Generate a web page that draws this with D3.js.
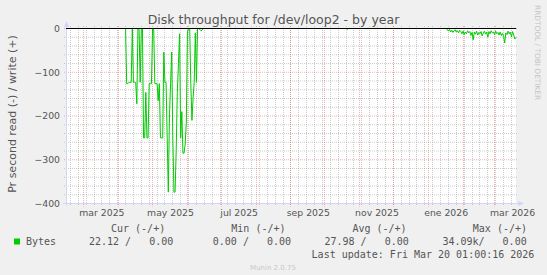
<!DOCTYPE html>
<html><head><meta charset="utf-8">
<script src="https://cdn.jsdelivr.net/npm/d3@7"></script>
<style>
body{margin:0;background:#F0F0F0;}
svg{display:block}
text{white-space:pre}
</style>
</head><body><svg id="c" width="547" height="275"></svg>
<script>
const chartTitle = "Disk throughput for /dev/loop2 - by year";
const yAxisLabel = "Pr second read (-) / write (+)";
const sideLabel = "RRDTOOL / TOBI OETIKER";
const footer = "Munin 2.0.75";
const rangeStart = "2025-02-13T01:00:00Z";
const rangeEnd = "2026-03-20T01:00:00Z";
const yTicks = [0, -100, -200, -300, -400];
const monthTickDates = ["2025-03-01","2025-05-01","2025-07-01","2025-09-01","2025-11-01","2026-01-01","2026-03-01"];
const monthTickLabels = ["mar 2025","may 2025","jul 2025","sep 2025","nov 2025","ene 2026","mar 2026"];

// daily read values (negative = read), Bytes per second
const springStart = "2025-04-07";
const springRead = [0,-126,-126,-123,-123,-123,0,-123,-123,-123,-172,0,0,-123,0,0,-250,-250,-146,-250,-250,-126,-126,-126,
  0,0,-126,-126,-126,-165,-126,-250,-250,-250,-54,-123,-123,-250,-374,-200,-126,-54,-250,-374,-374,-279,-146,-80,-12,-250,-190,-285,-285,-264,-214,
  -8,0,0,-126,-210,-160,-123,-10,-123,0,0,-2,-5,-4,0];
const autumnStart = "2025-10-20";
const autumnRead = [0,-2,0];
const winterStart = "2026-01-16";
const winterRead = [0,0,-3,-6,-2,-8,-4,-9,-5,-3,-8,-5,-10,-4,-7,-12,
  -6,-14,-8,-12,-5,-10,-7,-16,-9,-26,-8,-13,-6,-15,-9,-12,-7,-17,-10,-6,-13,-8,-20,-7,-12,-5,-10,-8,
  -14,-6,-12,-9,-15,-8,-16,-11,-18,-33,-10,-14,-6,-12,-8,-19,-7,-15,-24,-20];

const seriesName = "Bytes";
const seriesColor = "#00CC00";
const legendHeaders = ["Cur (-/+)","Min (-/+)","Avg (-/+)","Max (-/+)"];
const legendValues = ["22.12 /   0.00","0.00 /   0.00","27.98 /   0.00","34.09k/   0.00"];
const lastUpdate = "Last update: Fri Mar 20 01:00:16 2026";

const DAY = 864e5;
function seg(start, vals){
  const t0 = Date.parse(start + "T00:00:00Z");
  return vals.map((v,i)=>({t:new Date(t0 + i*DAY), v}));
}
const series = [{t:new Date(rangeStart), v:0}]
  .concat(seg(springStart, springRead), seg(autumnStart, autumnRead), seg(winterStart, winterRead));

const svg = d3.select("#c");
const X0 = 66, X1 = 516, YT = 28.5, YB = 203.5;
const x = d3.scaleUtc().domain([new Date(rangeStart), new Date(rangeEnd)]).range([X0, X1]);
const y = d3.scaleLinear().domain([-400, 0]).range([YB, YT]);

const sansFont = "'DejaVu Sans', sans-serif";
const monoFont = "'DejaVu Sans Mono', monospace";
const fontCol = "#555";

// canvas
svg.append("rect").attr("x", X0).attr("y", 28).attr("width", X1 - X0).attr("height", YB - 28).attr("fill", "#fff");

const snap = v => Math.round(v) + 0.5;
const minorCol = "rgba(143,143,143,0.45)";
const majorCol = "rgba(224,80,80,0.45)";
const gridG = svg.append("g").attr("stroke-width", 1).attr("stroke-dasharray", "1,1").attr("fill", "none");
// minor vertical (weeks)
d3.utcMonday.range(new Date(rangeStart), new Date(rangeEnd)).forEach(d => {
  const px = snap(x(d) - 0.5);
  gridG.append("line").attr("x1", px).attr("x2", px).attr("y1", 26).attr("y2", 205.5).attr("stroke", minorCol);
});
// minor horizontal
d3.range(-400, 1, 20).filter(v => v % 100 !== 0).forEach(v => {
  gridG.append("line").attr("x1", X0 - 2).attr("x2", X1 + 2).attr("y1", y(v)).attr("y2", y(v)).attr("stroke", minorCol);
});
// major vertical (months)
d3.utcMonth.range(new Date(rangeStart), new Date(rangeEnd)).forEach(d => {
  const px = snap(x(d) - 0.5);
  gridG.append("line").attr("x1", px).attr("x2", px).attr("y1", 26).attr("y2", 206.5).attr("stroke", majorCol);
});
// major horizontal
yTicks.forEach(v => {
  gridG.append("line").attr("x1", X0 - 2).attr("x2", X1 + 2).attr("y1", y(v)).attr("y2", y(v)).attr("stroke", majorCol);
});

// axes lines + arrows
const axCol = "#CFD6F8";
svg.append("line").attr("x1", X0 + 0.5).attr("x2", X0 + 0.5).attr("y1", YB + 2).attr("y2", 24).attr("stroke", axCol);
svg.append("line").attr("x1", X0 - 3).attr("x2", X1 + 3).attr("y1", YB).attr("y2", YB).attr("stroke", axCol);
svg.append("path").attr("d", `M${X0 - 2},27 L${X0 + 3},27 L${X0 + 0.5},21 Z`).attr("fill", axCol);
svg.append("path").attr("d", `M${X1 + 2},${YB - 2.5} L${X1 + 2},${YB + 2.5} L${X1 + 8},${YB} Z`).attr("fill", axCol);

// data line
const line = d3.line().x(d => x(d.t)).y(d => y(d.v));
svg.append("path").datum(series).attr("d", line).attr("fill", "none").attr("stroke", seriesColor).attr("stroke-width", 1);
// zero rule
svg.append("line").attr("x1", X0).attr("x2", X1).attr("y1", y(0)).attr("y2", y(0)).attr("stroke", "#000");

// y axis labels
const yAxis = svg.append("g").attr("transform", `translate(${X0},0)`)
  .call(d3.axisLeft(y).tickValues(yTicks).tickSize(0).tickPadding(6).tickFormat(d3.format("d")));
yAxis.select(".domain").remove();
yAxis.selectAll("text").attr("font-family", sansFont).attr("font-size", 9.3).attr("fill", fontCol);

// x axis labels centered mid-month
const centers = monthTickDates.map(s => {
  const a = new Date(s + "T00:00:00Z");
  const b = d3.utcMonth.offset(a, 1);
  return new Date((+a + +b) / 2);
});
const xAxis = svg.append("g").attr("transform", `translate(0,${YB})`)
  .call(d3.axisBottom(x).tickValues(centers).tickSize(0).tickPadding(6).tickFormat((d,i) => monthTickLabels[i]));
xAxis.select(".domain").remove();
xAxis.selectAll("text").attr("font-family", sansFont).attr("font-size", 9.3).attr("fill", fontCol);

// title
svg.append("text").attr("x", 273.5).attr("y", 23.5).attr("text-anchor", "middle")
  .attr("font-family", sansFont).attr("font-size", 12.5).attr("fill", fontCol).text(chartTitle);
// y label
svg.append("text").attr("transform", "translate(15.5,114) rotate(-90)").attr("text-anchor", "middle")
  .attr("font-family", sansFont).attr("font-size", 11).attr("fill", fontCol).text(yAxisLabel);
// side label
svg.append("text").attr("transform", "translate(535,5) rotate(90)").attr("text-anchor", "start")
  .attr("font-family", sansFont).attr("font-size", 7.4).attr("fill", "#c4c4c4").text(sideLabel);

// legend
const headerX = [111, 231.3, 352.4, 472.8];
const valueX = [89, 212.8, 324.5, 442.4];
legendHeaders.forEach((h,i) => svg.append("text").attr("x", headerX[i]).attr("y", 232)
  .attr("font-family", monoFont).attr("font-size", 10).attr("fill", fontCol).text(h));
svg.append("rect").attr("x", 14).attr("y", 238.5).attr("width", 6).attr("height", 6).attr("fill", seriesColor);
svg.append("text").attr("x", 26).attr("y", 244.7).attr("font-family", monoFont).attr("font-size", 10).attr("fill", fontCol).text(seriesName);
legendValues.forEach((v,i) => svg.append("text").attr("x", valueX[i]).attr("y", 244.7)
  .attr("font-family", monoFont).attr("font-size", 10).attr("fill", fontCol).text(v));
svg.append("text").attr("x", 311.6).attr("y", 257.6).attr("font-family", monoFont).attr("font-size", 10).attr("fill", fontCol).text(lastUpdate);
svg.append("text").attr("x", 273).attr("y", 269.5).attr("text-anchor", "middle")
  .attr("font-family", sansFont).attr("font-size", 7).attr("fill", "#c8c8c8").text(footer);
</script>
</body></html>
